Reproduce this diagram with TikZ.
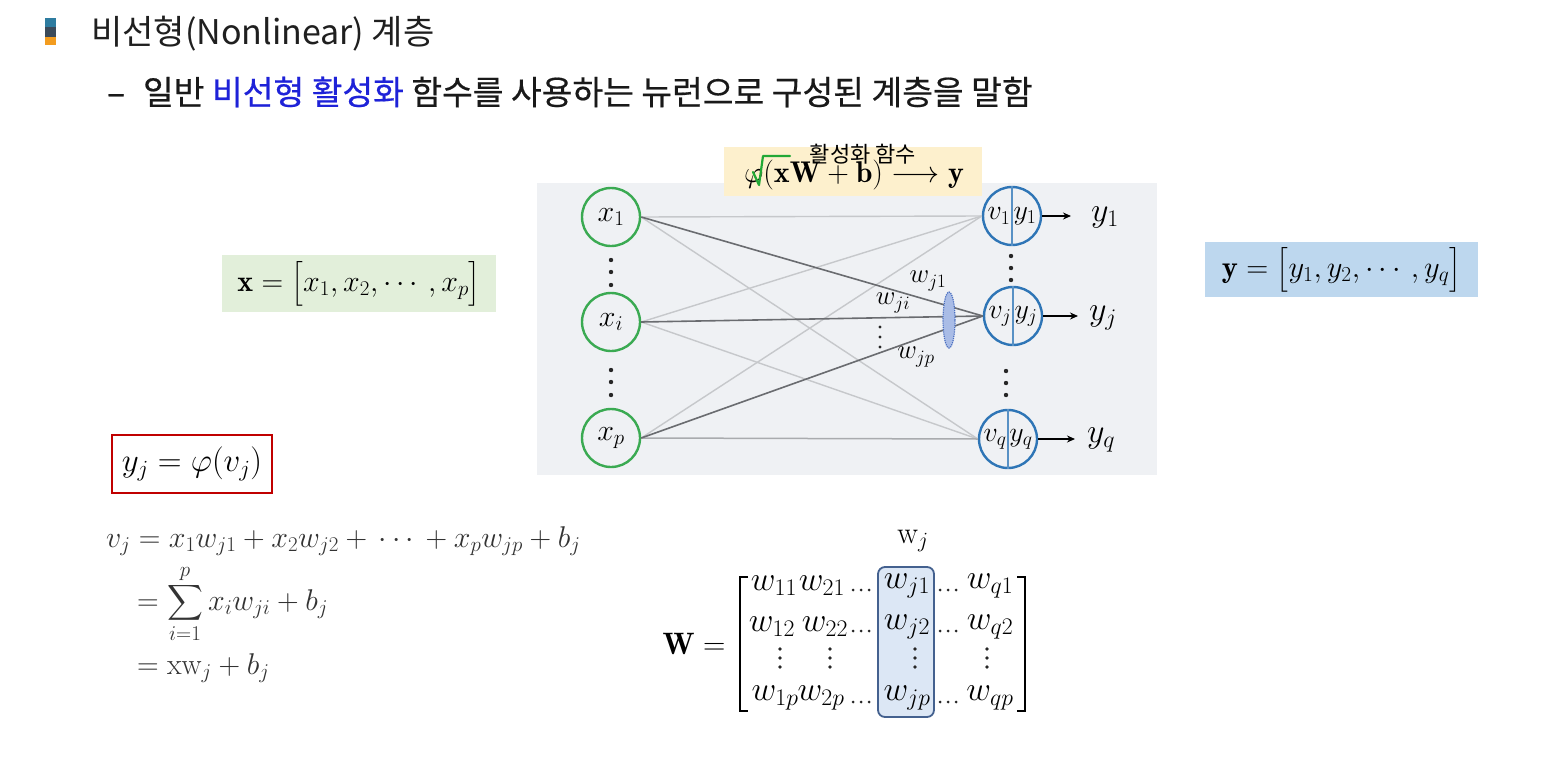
\RequirePackage{fix-cm}
\documentclass[tikz,border=0pt]{standalone}
\usepackage{amsmath}
\usepackage{fontspec}
\newfontfamily\krfont{Noto Sans CJK KR}
\newfontfamily\krsub[FakeBold=0.5]{Noto Sans CJK KR}
\usetikzlibrary{arrows.meta,calc,shapes.geometric}
\definecolor{ingreen}{HTML}{3AAA52}
\definecolor{outblue}{HTML}{2E75B6}
\definecolor{panel}{HTML}{EFF1F4}
\definecolor{yel}{HTML}{FDF0CD}
\definecolor{gbox}{HTML}{E2EFDA}
\definecolor{bbox}{HTML}{BDD7EE}
\definecolor{redb}{HTML}{C00000}
\definecolor{kblue}{HTML}{1E22D8}
\definecolor{lgray}{HTML}{C6C8CB}
\definecolor{mgray}{HTML}{A9ABAE}
\definecolor{dgray}{HTML}{6A6C70}
\definecolor{eqgray}{HTML}{333333}
\definecolor{colhl}{HTML}{DCE7F5}
\definecolor{colbd}{HTML}{44618F}
\definecolor{ellfill}{HTML}{A9BCE6}
\definecolor{ellbd}{HTML}{4A6FC0}
\definecolor{chk}{HTML}{22A836}
\definecolor{mk1}{HTML}{2E7CA0}
\definecolor{mk2}{HTML}{3B4A5A}
\definecolor{mk3}{HTML}{F39C1F}
\newcommand{\setfs}[1]{\fontsize{#1}{#1}\selectfont}
\tikzset{
 incirc/.style={circle, draw=ingreen, line width=2.4pt, minimum size=58pt, inner sep=0pt, font=\setfs{30}},
 outcirc/.style={circle, draw=outblue, line width=2.4pt, minimum size=58pt, inner sep=0pt},
 lline/.style={draw=lgray, line width=1.4pt},
 mline/.style={draw=mgray, line width=1.5pt},
 dline/.style={draw=dgray, line width=1.6pt},
 outarrow/.style={-{Stealth[length=8pt,width=7pt]}, line width=1.6pt, black},
 lbl/.style={inner sep=0pt, text=black},
 ment/.style={inner sep=0pt, text=black, font=\setfs{34}},
 dotc/.style={fill=black!85},
}
\begin{document}
\begin{tikzpicture}[x=1pt,y=-1pt]
\useasboundingbox (0,0) rectangle (1541,776);
\fill[white] (0,0) rectangle (1541,776);
% bullet marker
\fill[mk1] (45,18) rectangle (56,27);
\fill[mk2] (45,27) rectangle (56,37);
\fill[mk3] (45,37) rectangle (56,45);
% title and subtitle
\node[anchor=west, inner sep=0pt, text=black!88] (title) at (91,34) {\krfont\setfs{34}비선형(Nonlinear) 계층};
\node[anchor=west, inner sep=0pt, text=black!90] (sub) at (107,92) {\krsub\setfs{33.4}–\hspace{18pt}일반 \textcolor{kblue}{비선형 활성화} 함수를 사용하는 뉴런으로 구성된 계층을 말함};
% panel
\fill[panel] (537,183) rectangle (1157,475);
% activation box
\node[fill=yel, minimum width=258pt, minimum height=49pt, inner sep=0pt] (act) at (853,171.5) {};
\node[lbl] (actf) at (854,175) {\setfs{30}$\varphi(\mathbf{xW}+\mathbf{b})\longrightarrow\mathbf{y}$};
\node[lbl] (actlbl) at (863,154) {\krfont\setfs{22}활성화 함수};
\draw[chk, line width=2.2pt, line join=round, line cap=round] (753,172) -- (759,185) -- (763,156) -- (790,156);
% input nodes
\node[incirc] (x1) at (611,217) {$x_1$};
\node[incirc] (xi) at (611,322) {$x_i$};
\node[incirc] (xp) at (611,438) {$x_p$};
% output nodes
\node[outcirc] (o1) at (1012,216) {};
\node[outcirc] (oj) at (1013,316) {};
\node[outcirc] (oq) at (1008,439) {};
% connections
\draw[lline] (x1.east) -- (o1.west);
\draw[lline] (x1.east) -- (oq.west);
\draw[lline] (xi.east) -- (o1.west);
\draw[lline] (xi.east) -- (oq.west);
\draw[lline] (xp.east) -- (o1.west);
\draw[mline] (xp.east) -- (oq.west);
\draw[dline] (x1.east) -- (oj.west);
\draw[dline] (xi.east) -- (oj.west);
\draw[dline] (xp.east) -- (oj.west);
% ellipse
\node[ellipse, minimum width=12pt, minimum height=56pt, inner sep=0pt, fill=ellfill, draw=ellbd, densely dotted, line width=1.2pt] (ell) at (949,320) {};
% weight labels
\node[lbl] (wj1) at (928,281) {\setfs{27}$w_{j1}$};
\node[lbl] (wji) at (893,303) {\setfs{27}$w_{ji}$};
\node[lbl] (wjp) at (916,357) {\setfs{27}$w_{jp}$};
\foreach \y in {327,337,347} {\fill[dotc] (880,\y) circle (1.7pt);}
% output circle internals
\foreach \n in {o1,oj,oq} {\draw[outblue!80, line width=1.3pt] (\n.north) -- (\n.south);}
\node[lbl] (v1) at ($(o1)+(-13,0)$) {\setfs{28}$v_1$};
\node[lbl] (y1) at ($(o1)+(13,0)$) {\setfs{28}$y_1$};
\node[lbl] (vj) at ($(oj)+(-13,0)$) {\setfs{28}$v_j$};
\node[lbl] (yj) at ($(oj)+(13,0)$) {\setfs{28}$y_j$};
\node[lbl] (vq) at ($(oq)+(-13,0)$) {\setfs{28}$v_q$};
\node[lbl] (yq) at ($(oq)+(13,0)$) {\setfs{28}$y_q$};
% output arrows
\coordinate (e1) at (1071,216);
\coordinate (ej) at (1078,316);
\coordinate (eq) at (1075,439);
\draw[outarrow] (o1.east) -- (e1);
\draw[outarrow] (oj.east) -- (ej);
\draw[outarrow] (oq.east) -- (eq);
\node[lbl] (oy1) at (1105,217) {\setfs{34}$y_1$};
\node[lbl] (oyj) at (1103,318) {\setfs{34}$y_j$};
\node[lbl] (oyq) at (1101,440) {\setfs{34}$y_q$};
% dots
\foreach \y in {260,272,285} {\fill[dotc] (611,\y) circle (2.2pt);}
\foreach \y in {370,382,395} {\fill[dotc] (611,\y) circle (2.2pt);}
\foreach \y in {256,268,280} {\fill[dotc] (1011,\y) circle (2.2pt);}
\foreach \y in {371,383,395} {\fill[dotc] (1006,\y) circle (2.2pt);}
% vector boxes
\node[fill=gbox, minimum width=274pt, minimum height=57pt, inner sep=0pt] (xbox) at (359,283.5) {\setfs{30}$\mathbf{x}=\bigl[x_1,x_2,\cdots,x_p\bigr]$};
\node[fill=bbox, minimum width=273pt, minimum height=55pt, inner sep=0pt] (ybox) at (1341.5,269.5) {\setfs{30.5}$\mathbf{y}=\bigl[y_1,y_2,\cdots,y_q\bigr]$};
% red box
\node[draw=redb, line width=2pt, minimum width=160pt, minimum height=58pt, inner sep=0pt] (rbox) at (192,464) {\setfs{33}$y_j=\varphi(v_j)$};
% equations
\node[anchor=west, inner sep=0pt, text=eqgray] (eq1) at (106,541) {\setfs{30}$v_j=x_1w_{j1}+x_2w_{j2}+\,\cdots\,+x_pw_{jp}+b_j$};
\node[anchor=west, inner sep=0pt, text=eqgray] (eq2) at (137,604) {\setfs{30}$=\displaystyle\sum_{i=1}^{p}x_iw_{ji}+b_j$};
\node[anchor=west, inner sep=0pt, text=eqgray] (eq3) at (137,668) {\setfs{30}$=\mathrm{x}\mathrm{w}_j+b_j$};
% matrix
\node[lbl] (wjlab) at (913,541) {\setfs{31}$\mathrm{w}_j$};
\node[lbl] (Weq) at (694,644) {\setfs{31}$\mathbf{W}=$};
\node[fill=colhl, draw=colbd, line width=1.8pt, rounded corners=7pt, minimum width=56pt, minimum height=150pt, inner sep=0pt] (hl) at (906,642) {};
\draw[line width=2pt] (748,577) -- (740,577) -- (740,711) -- (748,711);
\draw[line width=2pt] (1017,577) -- (1025,577) -- (1025,711) -- (1017,711);
\node[ment] (m11) at (774,586) {$w_{11}$};
\node[ment] (m21) at (822,586) {$w_{21}$};
\node[ment] (mj1) at (907,586) {$w_{j1}$};
\node[ment] (mq1) at (990,586) {$w_{q1}$};
\node[ment] (m12) at (772,627) {$w_{12}$};
\node[ment] (m22) at (825,627) {$w_{22}$};
\node[ment] (mj2) at (907,627) {$w_{j2}$};
\node[ment] (mq2) at (990,627) {$w_{q2}$};
\node[ment] (m1p) at (775,698) {$w_{1p}$};
\node[ment] (m2p) at (821,698) {$w_{2p}$};
\node[ment] (mjp) at (907,698) {$w_{jp}$};
\node[ment] (mqp) at (990,698) {$w_{qp}$};
% horizontal dots in matrix
\foreach \x in {853,861,869} {\foreach \y in {590,631,702} {\fill[dotc] (\x,\y) circle (1.5pt);}}
\foreach \x in {940,948,956} {\foreach \y in {590,631,702} {\fill[dotc] (\x,\y) circle (1.5pt);}}
% vertical dots in matrix
\foreach \x in {780,830,915,987} {\foreach \y in {649,658,667} {\fill[dotc] (\x,\y) circle (1.9pt);}}
\end{tikzpicture}
\end{document}
